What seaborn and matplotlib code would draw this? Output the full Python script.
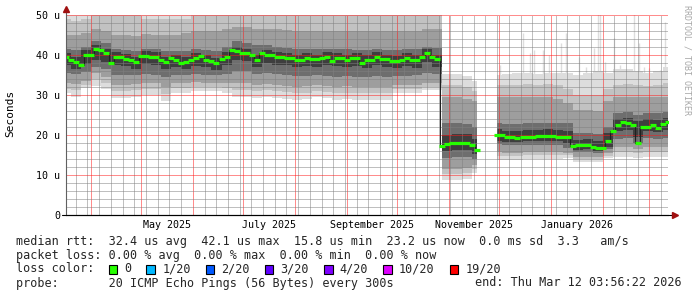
import numpy as np
import pandas as pd
import matplotlib
matplotlib.use("Agg")
import matplotlib.pyplot as plt
import matplotlib.dates as mdates
import matplotlib.transforms as mtransforms
from matplotlib.patches import Rectangle
from matplotlib.ticker import FixedLocator, MultipleLocator, NullFormatter
import seaborn as sns

nan = np.nan

# ---------------- data ----------------
period_start = "2025-03-17 03:56:22"
period_end = "2026-03-12 03:56:22"

# median RTT (microseconds), one sample every 3 days from period_start
median_us = [
    39.4, 38.7, 38.3, 37.6, 40.0, 40.0, 41.5, 41.2, 40.4, 38.1,
    39.6, 39.5, 39.1, 38.8, 38.2, 39.8, 39.8, 39.6, 39.5, 38.8,
    38.3, 39.2, 38.8, 38.1, 38.3, 38.7, 39.2, 39.7, 38.8, 38.4,
    37.9, 38.9, 39.6, 41.2, 40.9, 40.6, 40.4, 40.0, 38.8, 40.4,
    40.1, 40.1, 39.6, 39.6, 39.3, 39.3, 38.8, 38.8, 39.2, 39.0,
    38.9, 39.2, 39.6, 38.5, 39.2, 39.2, 38.8, 39.2, 39.2, 37.9,
    38.7, 38.8, 39.6, 38.9, 38.9, 38.5, 38.5, 38.8, 39.2, 38.8,
    38.7, 39.6, 40.4, 39.5, 38.9, 17.3, 17.8, 18.1, 18.1, 18.1,
    17.9, 17.5, 16.3, nan, nan, nan, 20.0, 20.0, 19.4, 19.4,
    19.2, 19.6, 19.6, 19.6, 19.7, 19.7, 19.7, 19.8, 19.6, 19.6,
    19.6, 17.3, 17.5, 17.5, 17.5, 17.0, 16.7, 16.7, 18.5, 21.0,
    22.5, 23.3, 22.9, 22.5, 17.9, 22.0, 22.1, 22.5, 21.8, 22.7,
    23.2,
]

# smoke envelopes (microseconds), one sample every 6 days from period_start
# (sorted-ping bands, from the fastest ping upwards)
smoke_min_us = [
    30.4, 29.6, 31.7, 32.3, 31.5, 29.2, 29.2, 29.6, 30.0, 30.0,
    28.5, 30.4, 30.4, 31.0, 31.0, 31.0, 30.6, 29.5, 29.6, 29.2,
    29.6, 29.2, 29.0, 28.8, 29.0, 29.5, 29.2, 28.8, 29.0, 28.8,
    28.8, 28.8, 28.8, 30.4, 30.4, 30.4, 31.2, 31.2, 8.8, 8.8,
    9.0, 10.5, nan, 13.8, 13.8, 13.8, 14.0, 14.0, 14.0, 14.0,
    14.2, 13.3, 13.3, 13.3, 14.2, 14.6, 14.6, 14.2, 14.6, 14.6,
    14.6,
]
smoke_lo3_us = [
    31.6, 31.2, 32.6, 34.0, 33.0, 30.9, 30.9, 31.2, 31.5, 31.5,
    30.3, 31.7, 31.7, 32.1, 32.0, 32.0, 31.8, 31.3, 31.3, 30.9,
    31.2, 30.9, 30.7, 30.4, 30.6, 31.0, 30.7, 30.4, 30.6, 30.4,
    30.4, 30.4, 30.4, 31.5, 31.5, 31.5, 32.1, 32.1, 10.2, 10.2,
    10.4, 11.5, nan, 14.8, 14.7, 14.7, 14.9, 14.9, 14.9, 14.9,
    14.9, 14.0, 14.0, 14.0, 14.8, 15.8, 15.8, 15.4, 15.8, 15.8,
    15.8,
]
smoke_lo2_us = [
    33.0, 32.8, 33.5, 35.5, 34.5, 32.5, 32.5, 32.8, 33.0, 33.0,
    32.0, 33.0, 33.0, 33.2, 33.0, 33.0, 33.0, 33.0, 33.0, 32.5,
    32.8, 32.5, 32.3, 32.0, 32.2, 32.5, 32.2, 32.0, 32.2, 32.0,
    32.0, 32.0, 32.0, 32.5, 32.5, 32.5, 33.0, 33.0, 11.5, 11.5,
    11.8, 12.5, nan, 15.8, 15.6, 15.6, 15.8, 15.8, 15.8, 15.8,
    15.5, 14.6, 14.6, 14.6, 15.5, 17.0, 17.1, 16.5, 17.1, 17.1,
    17.1,
]
smoke_lo1_us = [
    35.5, 35.2, 35.8, 37.0, 36.5, 35.0, 35.0, 35.0, 35.3, 35.0,
    34.5, 35.0, 35.0, 35.3, 35.0, 35.0, 35.3, 36.0, 36.0, 35.3,
    35.5, 35.2, 35.0, 34.8, 34.8, 35.0, 34.8, 34.6, 34.8, 34.6,
    34.6, 34.8, 34.6, 34.8, 34.8, 35.0, 35.5, 35.3, 14.3, 14.5,
    14.5, 14.0, nan, 17.8, 17.5, 17.5, 17.5, 17.6, 17.6, 17.6,
    16.8, 15.8, 15.8, 15.5, 16.5, 19.0, 19.2, 18.0, 19.2, 19.0,
    19.2,
]
smoke_lo0_us = [
    37.5, 36.6, 37.8, 38.8, 38.2, 37.6, 37.2, 36.4, 37.8, 37.6,
    36.5, 37.0, 36.5, 37.3, 37.0, 36.2, 37.6, 38.8, 38.5, 37.0,
    38.0, 37.6, 37.4, 37.0, 37.3, 37.0, 37.6, 37.3, 36.9, 37.3,
    36.8, 37.6, 37.0, 36.7, 37.3, 36.8, 38.2, 37.0, 16.0, 16.3,
    16.2, 15.2, nan, 18.5, 18.3, 18.3, 18.5, 18.6, 18.6, 18.6,
    18.0, 16.3, 16.4, 16.1, 17.0, 21.0, 21.2, 19.5, 21.0, 20.8,
    21.2,
]
smoke_hi0_us = [
    40.6, 39.6, 41.2, 42.6, 41.6, 40.8, 40.3, 39.5, 41.0, 40.7,
    39.6, 40.0, 39.6, 40.4, 40.0, 39.2, 40.8, 42.1, 41.6, 40.1,
    41.3, 40.8, 40.5, 40.0, 40.4, 40.1, 40.8, 40.4, 40.0, 40.4,
    39.9, 40.8, 40.1, 39.7, 40.4, 39.9, 41.6, 40.1, 20.0, 20.3,
    20.2, 19.0, nan, 21.5, 21.0, 21.0, 21.3, 21.3, 21.4, 21.3,
    21.0, 18.8, 18.9, 18.6, 20.5, 24.0, 24.3, 23.5, 24.0, 23.8,
    24.2,
]
smoke_hi1_us = [
    41.5, 41.3, 42.0, 43.5, 43.0, 41.5, 41.3, 41.0, 41.5, 41.5,
    41.0, 41.0, 41.0, 41.5, 41.3, 41.0, 42.0, 43.5, 43.0, 42.5,
    42.5, 42.0, 41.8, 41.5, 41.5, 41.5, 41.5, 41.5, 41.5, 41.3,
    41.3, 41.5, 41.3, 41.3, 41.5, 41.5, 42.0, 41.8, 23.0, 23.0,
    22.8, 22.0, nan, 23.0, 22.8, 22.8, 23.0, 23.0, 23.0, 23.0,
    23.0, 20.5, 20.5, 20.3, 22.0, 25.5, 25.8, 25.0, 25.5, 25.5,
    25.8,
]
smoke_hi2_us = [
    45.0, 45.0, 45.5, 46.5, 46.0, 45.0, 45.0, 44.8, 45.2, 45.0,
    45.0, 45.0, 45.5, 46.0, 46.0, 46.0, 46.5, 47.0, 47.0, 46.5,
    46.5, 46.5, 46.3, 46.0, 46.0, 46.0, 46.0, 46.0, 46.0, 46.0,
    46.0, 46.0, 46.0, 46.0, 46.0, 46.0, 46.5, 46.5, 29.5, 29.5,
    29.0, 28.5, nan, 29.5, 29.5, 29.6, 29.6, 29.6, 29.6, 29.0,
    28.0, 26.3, 26.3, 26.0, 28.5, 29.6, 29.6, 29.6, 29.6, 29.6,
    29.6,
]
smoke_hi3_us = [
    49.0, 48.5, 49.0, 51.0, 51.0, 51.0, 51.0, 51.0, 49.0, 49.0,
    49.0, 49.0, 49.0, 51.0, 51.0, 51.0, 51.0, 51.0, 51.0, 51.0,
    51.0, 51.0, 51.0, 51.0, 51.0, 51.0, 51.0, 51.0, 51.0, 51.0,
    51.0, 51.0, 51.0, 51.0, 51.0, 51.0, 51.0, 51.0, 32.5, 32.5,
    32.0, 31.0, nan, 32.5, 32.5, 32.6, 32.8, 32.6, 32.8, 32.5,
    31.5, 30.0, 30.0, 30.0, 31.5, 32.5, 32.8, 32.5, 32.3, 32.5,
    33.0,
]
smoke_max_us = [
    53.0, 53.0, 53.0, 53.0, 53.0, 53.0, 53.0, 53.0, 53.0, 53.0,
    53.0, 53.0, 53.0, 53.0, 53.0, 53.0, 53.0, 53.0, 53.0, 53.0,
    53.0, 53.0, 53.0, 53.0, 53.0, 53.0, 53.0, 53.0, 53.0, 53.0,
    53.0, 53.0, 53.0, 53.0, 53.0, 53.0, 53.0, 53.0, 35.3, 35.2,
    34.8, 33.5, nan, 35.0, 35.2, 35.4, 35.5, 35.3, 35.5, 35.4,
    35.4, 35.0, 35.5, 36.0, 35.5, 36.5, 36.5, 36.0, 35.5, 36.0,
    37.0,
]

# isolated slow pings (day offset from period_start, top in microseconds)
spike_day = [259.7, 273.5, 277.7, 280.1, 285.5, 289.1, 296.3, 299.3, 306.5, 310.7,
             315.5, 317.9, 319.1, 322.1, 327.5, 331.1, 339.5, 342.5, 345.5, 348.5,
             355.1, 358.1]
spike_top_us = [37.5, 45.4, 40.4, 41.3, 41.3, 40.0, 42.9, 45.4, 39.6, 37.0,
                41.7, 50.5, 50.5, 38.3, 44.2, 37.5, 50.5, 42.9, 37.0, 36.7,
                36.3, 48.3]

y_ticks_us = [0, 10, 20, 30, 40, 50]
y_tick_labels = ["0", "10 u", "20 u", "30 u", "40 u", "50 u"]
month_labels = ["2025-05", "2025-07", "2025-09", "2025-11", "2026-01"]

loss_labels = ["0", "1/20", "2/20", "3/20", "4/20", "10/20", "19/20"]
loss_colors = ["#26ff00", "#00b8ff", "#0059ff", "#5e00ff", "#7e00ff", "#dd00ff", "#ff0000"]

legend_row1 = "median rtt:  32.4 us avg  42.1 us max  15.8 us min  23.2 us now  0.0 ms sd  3.3   am/s"
legend_row2 = "packet loss: 0.00 % avg  0.00 % max  0.00 % min  0.00 % now"
legend_row3 = "loss color:"
legend_row4 = "probe:       20 ICMP Echo Pings (56 Bytes) every 300s"
legend_end = "end: Thu Mar 12 03:56:22 2026"

# ---------------- figure ----------------
sns.set_style("white")
plt.rcParams["font.family"] = ["DejaVu Sans Mono", "DejaVu Sans"]

W, H = 697, 297
fig = plt.figure(figsize=(W / 100, H / 100), dpi=100)
fig.patch.set_facecolor("white")
ax = fig.add_axes([66 / W, 1 - 215 / H, 602 / W, 200 / H])
ax.set_facecolor("white")

t0 = pd.Timestamp(period_start)
t1 = pd.Timestamp(period_end)
med_t = mdates.date2num(pd.date_range(t0, periods=len(median_us), freq="3D"))
smk_t = mdates.date2num(pd.date_range(t0, periods=len(smoke_min_us), freq="6D"))

# smoke layers (outer to inner)
layers = [
    (smoke_min_us, smoke_max_us, "#dddddd", 1.0),
    (smoke_lo3_us, smoke_hi3_us, "#c2c2c2", 1.2),
    (smoke_lo2_us, smoke_hi2_us, "#9e9e9e", 1.3),
    (smoke_lo1_us, smoke_hi1_us, "#6e6e6e", 1.4),
    (smoke_lo0_us, smoke_hi0_us, "#3e3e3e", 1.5),
]
for lo, hi, col, z in layers:
    ax.fill_between(smk_t, np.array(lo, float), np.array(hi, float), step="mid",
                    color=col, lw=0, zorder=z)

spk_t = mdates.date2num([t0 + pd.Timedelta(days=d) for d in spike_day])
ax.vlines(spk_t, 30, spike_top_us, colors="#dddddd", lw=1.0, zorder=1.1)

# median line
med = pd.DataFrame({"t": med_t, "median": median_us})
med["seg"] = med["median"].isna().cumsum()
med = med.dropna()
sns.lineplot(data=med, x="t", y="median", units="seg", estimator=None,
             color="#202020", lw=0.8, drawstyle="steps-mid", ax=ax,
             legend=False, zorder=4)
sns.scatterplot(data=med, x="t", y="median", marker="_", s=17, linewidth=2.3,
                color=loss_colors[0], ax=ax, legend=False, zorder=5)

# axes limits & grid
ax.set_xlim(mdates.date2num(t0), mdates.date2num(t1))
ax.set_ylim(0, 50)
ax.xaxis.set_major_locator(mdates.MonthLocator())
ax.xaxis.set_minor_locator(mdates.WeekdayLocator(byweekday=mdates.SU))
ax.xaxis.set_major_formatter(NullFormatter())
ax.yaxis.set_major_locator(FixedLocator(y_ticks_us))
ax.yaxis.set_minor_locator(MultipleLocator(2))
ax.set_yticks(y_ticks_us)
ax.set_yticklabels(y_tick_labels)
ax.set_xlabel("")
ax.set_ylabel("")

ax.set_axisbelow(False)
dot = (0, (1, 1))
ax.grid(which="minor", color=(0.5, 0.5, 0.5, 0.22), lw=0.72, ls=dot)
ax.grid(which="major", color=(1.0, 0.1, 0.1, 0.34), lw=0.72, ls=dot)

for s in ["top", "right"]:
    ax.spines[s].set_visible(False)
ax.spines["left"].set_color("#606060")
ax.spines["left"].set_linewidth(0.8)
ax.spines["bottom"].set_color("#000000")
ax.spines["bottom"].set_linewidth(0.8)
ax.spines["left"].set_zorder(6)
ax.spines["bottom"].set_zorder(6)

ax.tick_params(axis="x", which="major", direction="inout", length=3, width=0.7,
               color="#a04040")
ax.tick_params(axis="x", which="minor", direction="inout", length=2, width=0.6,
               color="#909090")
ax.tick_params(axis="y", which="both", length=0, pad=4.3, labelsize=7.2,
               labelcolor="#000000")

# axis arrows
ax.plot([0, 0], [1.0, 1.025], transform=ax.transAxes, clip_on=False,
        color="#606060", lw=0.8, zorder=6)
ax.plot([0], [1.028], marker="^", ms=4, color="#a01010", transform=ax.transAxes,
        clip_on=False, zorder=7)
ax.plot([-4 / 602, 1.0 + 6 / 602], [0, 0], transform=ax.transAxes, clip_on=False,
        color="#000000", lw=0.8, zorder=6)
ax.plot([1.0 + 7 / 602], [0], marker=">", ms=4, color="#a01010",
        transform=ax.transAxes, clip_on=False, zorder=7)

# month labels centred in their month
blend = mtransforms.blended_transform_factory(ax.transData, ax.transAxes)
for m in month_labels:
    ms_ = pd.Timestamp(m + "-01")
    me_ = ms_ + pd.offsets.MonthBegin(1)
    mid = mdates.date2num(ms_) + (mdates.date2num(me_) - mdates.date2num(ms_)) / 2
    ax.text(mid, -10 / 200, ms_.strftime("%B %Y"), transform=blend, ha="center",
            va="center", fontsize=7.2, color="#000000")

# unit label & watermark
fig.text(10 / W, 1 - 113 / H, "Seconds", rotation=90, ha="center", va="center",
         fontsize=8, color="#000000")
fig.text(687.5 / W, 1 - 5 / H, "RRDTOOL / TOBI OETIKER", rotation=-90, ha="center",
         va="top", fontsize=6, color="#a8a8a8")

# legend block
fs = 8.5
cw = 7.1
rows_y = [241, 255, 269, 283]
fig.text(16.5 / W, 1 - rows_y[0] / H, legend_row1, fontsize=fs, va="center", ha="left")
fig.text(16.5 / W, 1 - rows_y[1] / H, legend_row2, fontsize=fs, va="center", ha="left")
fig.text(16.5 / W, 1 - rows_y[2] / H, legend_row3, fontsize=fs, va="center", ha="left")
fig.text(16.5 / W, 1 - rows_y[3] / H, legend_row4, fontsize=fs, va="center", ha="left")
fig.text(682 / W, 1 - rows_y[3] / H, legend_end, fontsize=fs, va="center", ha="right")

bx = 108.5
for lab, col in zip(loss_labels, loss_colors):
    fig.add_artist(Rectangle((bx / W, 1 - (rows_y[2] + 4.5) / H), 8.5 / W, 9 / H,
                             transform=fig.transFigure, facecolor=col,
                             edgecolor="#000000", lw=0.8))
    lx = bx + 15.8
    fig.text(lx / W, 1 - rows_y[2] / H, lab, fontsize=fs, va="center", ha="left")
    bx = lx + len(lab) * cw + 15.0

fig.savefig("out.png", dpi=100, facecolor="white")
